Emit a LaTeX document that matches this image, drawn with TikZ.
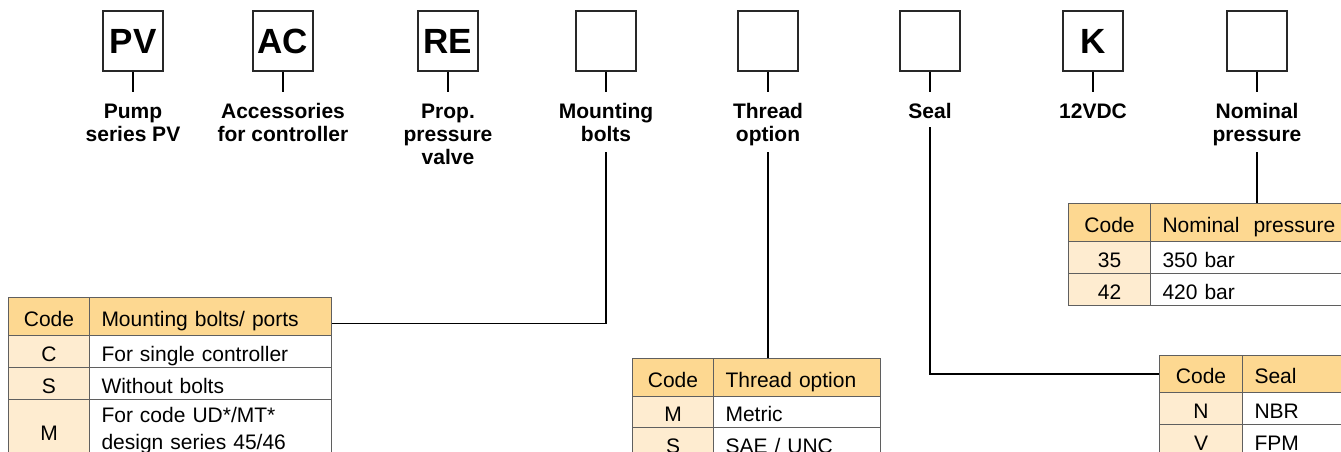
\documentclass[tikz,border=0pt]{standalone}
\usepackage{fontspec}
\setmainfont{Liberation Sans}
\definecolor{hdr}{RGB}{253,216,145}
\definecolor{codec}{RGB}{254,236,208}
\definecolor{gridc}{RGB}{95,95,95}
\definecolor{boxc}{RGB}{40,40,40}
\begin{document}
\begin{tikzpicture}[x=1pt,y=-1pt,
  codebox/.style={draw=boxc, line width=1.2pt, minimum width=60pt, minimum height=60pt, inner sep=0pt,
    font=\fontsize{35}{40}\selectfont\bfseries},
  lab/.style={anchor=north, align=center, inner sep=0pt, font=\fontsize{21}{23}\selectfont\bfseries},
  wire/.style={draw=black, line width=1.1pt},
  tbase/.style={draw=gridc, line width=1pt, inner sep=0pt, anchor=north west, font=\fontsize{21}{26.7}\selectfont},
  tcell/.style={tbase, text height=20pt, text depth=1pt},
  ccol/.style={fill=codec},
  hrow/.style={fill=hdr},
  dcell/.style={text width=#1, inner xsep=12pt, align=left},
]
\useasboundingbox (0,0) rectangle (1341,452);
\clip (0,0) rectangle (1341,452);

% code boxes
\node[codebox] (b1) at (133,41) {PV};
\node[codebox] (b2) at (283,41) {AC};
\node[codebox] (b3) at (448,41) {RE};
\node[codebox] (b4) at (606,41) {};
\node[codebox] (b5) at (768,41) {};
\node[codebox] (b6) at (930,41) {};
\node[codebox] (b7) at (1093,41) {K};
\node[codebox] (b8) at (1257,41) {};

% labels
\node[lab] (l1) at (133,103.5) {Pump\\series PV};
\node[lab] (l2) at (283,103.5) {Accessories\\for controller};
\node[lab] (l3) at (448,103.5) {Prop.\\pressure\\valve};
\node[lab] (l4) at (606,103.5) {Mounting\\bolts};
\node[lab] (l5) at (768,103.5) {Thread\\option};
\node[lab] (l6) at (930,103.5) {Seal};
\node[lab] (l7) at (1093,103.5) {12VDC};
\node[lab] (l8) at (1257,103.5) {Nominal\\pressure};

\foreach \i in {1,...,8}{
  \draw[wire] (b\i.south) -- ([yshift=11.5pt]l\i.north);
}

% Mounting bolts table
\node[tcell,hrow,minimum width=81pt,minimum height=38pt] (m-h1) at (8,297) {Code};
\node[tcell,hrow,dcell=218pt,minimum height=38pt] (m-h2) at (89,297) {Mounting bolts/ ports};
\node[tcell,ccol,minimum width=81pt,minimum height=32pt] (m-c1) at (8,335) {C};
\node[tcell,dcell=218pt,minimum height=32pt] (m-d1) at (89,335) {For single controller};
\node[tcell,ccol,minimum width=81pt,minimum height=32pt] (m-c2) at (8,367) {S};
\node[tcell,dcell=218pt,minimum height=32pt] (m-d2) at (89,367) {Without bolts};
\node[tcell,ccol,minimum width=81pt,minimum height=62pt] (m-c3) at (8,399) {M};
\node[tbase,dcell=218pt,minimum height=62pt] (m-d3) at (89,399) {For code UD*/MT*\\design series 45/46};

% Thread option table
\node[tcell,hrow,minimum width=81pt,minimum height=38pt] (t-h1) at (632,358) {Code};
\node[tcell,hrow,dcell=143pt,minimum height=38pt] (t-h2) at (713,358) {Thread option};
\node[tcell,ccol,minimum width=81pt,minimum height=31pt] (t-c1) at (632,396) {M};
\node[tcell,dcell=143pt,minimum height=31pt] (t-d1) at (713,396) {Metric};
\node[tcell,ccol,minimum width=81pt,minimum height=32pt] (t-c2) at (632,427) {S};
\node[tcell,dcell=143pt,minimum height=32pt] (t-d2) at (713,427) {SAE / UNC};

% Nominal pressure table
\node[tcell,hrow,minimum width=82pt,minimum height=38pt] (n-h1) at (1068,203) {Code};
\node[tcell,hrow,dcell=186pt,minimum height=38pt] (n-h2) at (1150,203) {Nominal\ \ pressure};
\node[tcell,ccol,minimum width=82pt,minimum height=32pt] (n-c1) at (1068,241) {35};
\node[tcell,dcell=186pt,minimum height=32pt] (n-d1) at (1150,241) {350 bar};
\node[tcell,ccol,minimum width=82pt,minimum height=32pt] (n-c2) at (1068,273) {42};
\node[tcell,dcell=186pt,minimum height=32pt] (n-d2) at (1150,273) {420 bar};

% Seal table
\node[tcell,hrow,minimum width=83pt,minimum height=37pt] (s-h1) at (1159,355) {Code};
\node[tcell,hrow,dcell=94pt,minimum height=37pt] (s-h2) at (1242,355) {Seal};
\node[tcell,ccol,minimum width=83pt,minimum height=32pt] (s-c1) at (1159,392) {N};
\node[tcell,dcell=94pt,minimum height=32pt] (s-d1) at (1242,392) {NBR};
\node[tcell,ccol,minimum width=83pt,minimum height=32pt] (s-c2) at (1159,424) {V};
\node[tcell,dcell=94pt,minimum height=32pt] (s-d2) at (1242,424) {FPM};

% connectors to tables
\draw[wire] ([yshift=-48.5pt]l4.north) |- ([yshift=-7pt]m-h2.east);
\draw[wire] ([yshift=-48.5pt]l5.north) -- (l5 |- t-h2.north);
\draw[wire] ([yshift=-23.5pt]l6.north) |- (s-h1.west);
\draw[wire] ([yshift=-48.5pt]l8.north) -- (l8 |- n-h2.north);
\end{tikzpicture}
\end{document}
